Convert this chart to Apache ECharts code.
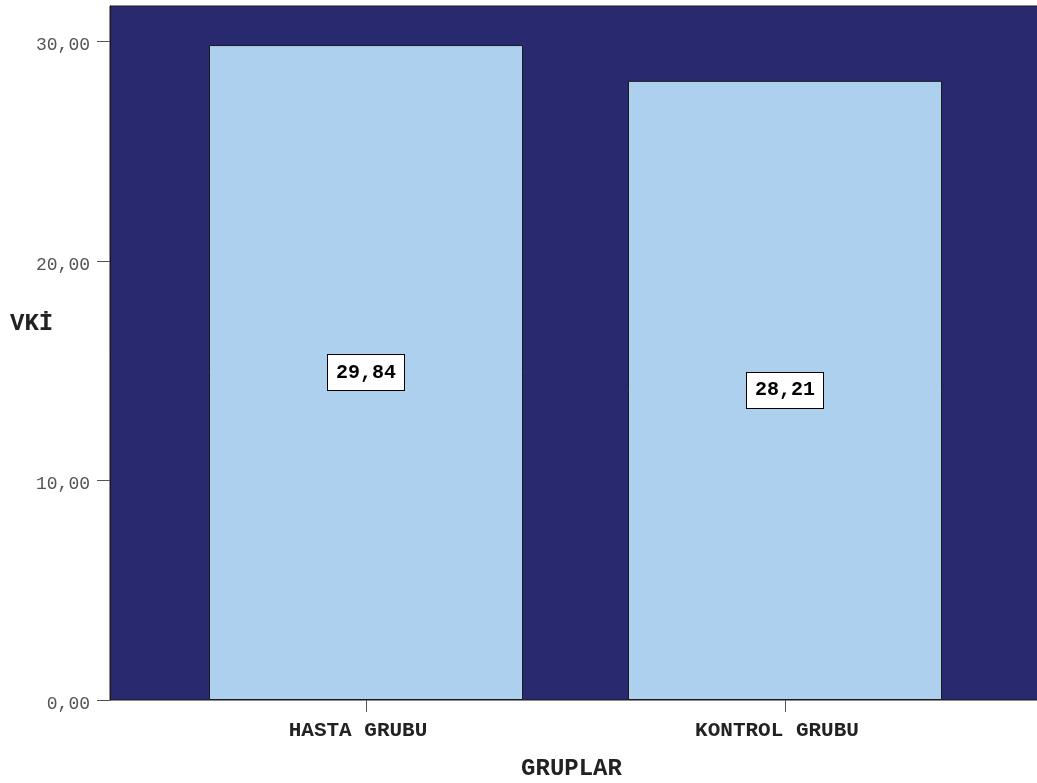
<!DOCTYPE html>
<html>
<head>
<meta charset="utf-8">
<script src="https://cdn.jsdelivr.net/npm/echarts@6/dist/echarts.min.js"></script>
<style>
  html, body { margin: 0; padding: 0; background: #ffffff; }
  #chart { width: 1037px; height: 783px; }
</style>
</head>
<body>
<div id="chart"></div>
<script>
// Mean body-mass index (VKİ) per group
const categories = ['HASTA GRUBU', 'KONTROL GRUBU'];
const values = [29.84, 28.21];
const yTicks = [0, 10, 20, 30];

const fmt = v => v.toFixed(2).replace('.', ',');
const MONO = '"Liberation Mono", "DejaVu Sans Mono", monospace';
const yMax = 31.62;

const chart = echarts.init(document.getElementById('chart'));
chart.setOption({
  animation: false,
  backgroundColor: '#ffffff',
  title: {
    text: 'VKİ', left: 10, top: 312, padding: 0,
    textStyle: { color: '#222', fontFamily: MONO, fontWeight: 'bold', fontSize: 24 }
  },
  grid: [
    { // frame and dark plot background
      left: 110, top: 6, right: -5, bottom: 83,
      outerBoundsMode: 'none',
      show: true, backgroundColor: '#29296f',
      borderColor: '#1a1a1a', borderWidth: 1
    },
    { // bar area
      left: 156.5, right: 42.5, top: 6, bottom: 83,
      outerBoundsMode: 'none'
    }
  ],
  xAxis: [
    { gridIndex: 0, type: 'category', data: categories, show: false },
    {
      gridIndex: 1, type: 'category', data: categories,
      axisLine: { show: false },
      axisTick: { show: true, alignWithLabel: true, length: 12, lineStyle: { color: '#555', width: 1 } },
      axisLabel: {
        margin: 20, color: '#222', fontFamily: MONO, fontWeight: 'bold', fontSize: 21,
        formatter: v => '{c|' + v + '}',
        rich: { c: { fontFamily: MONO, fontWeight: 'bold', fontSize: 21, color: '#222', padding: [0, 16, 0, 0] } }
      },
      name: 'GRUPLAR', nameLocation: 'middle', nameGap: 57,
      nameTextStyle: { color: '#222', fontFamily: MONO, fontWeight: 'bold', fontSize: 24, padding: [0, 8, 0, 0] }
    }
  ],
  yAxis: [
    {
      gridIndex: 0, type: 'value', min: 0, max: yMax,
      splitLine: { show: false },
      axisLine: { show: true, lineStyle: { color: '#1a1a1a' } },
      axisTick: { show: true, length: 13, customValues: yTicks, lineStyle: { color: '#555' } },
      axisLabel: {
        customValues: yTicks, margin: 20, color: '#555',
        fontFamily: MONO, fontSize: 18,
        formatter: v => '{t|' + fmt(v) + '}',
        rich: { t: { fontFamily: MONO, fontSize: 18, color: '#555', padding: [8, 0, 0, 0] } }
      }
    },
    { gridIndex: 1, type: 'value', min: 0, max: yMax, show: false, splitLine: { show: false } }
  ],
  series: [{
    type: 'bar',
    xAxisIndex: 1, yAxisIndex: 1,
    data: values,
    barWidth: 314,
    itemStyle: { color: '#acd0ed', borderColor: '#1a1a1a', borderWidth: 1 },
    label: {
      show: true, position: 'inside',
      formatter: p => fmt(p.value),
      color: '#000', fontFamily: MONO, fontWeight: 'bold', fontSize: 20,
      backgroundColor: '#ffffff', borderColor: '#000', borderWidth: 1,
      padding: [9, 8, 6, 8]
    }
  }]
});
</script>
</body>
</html>
